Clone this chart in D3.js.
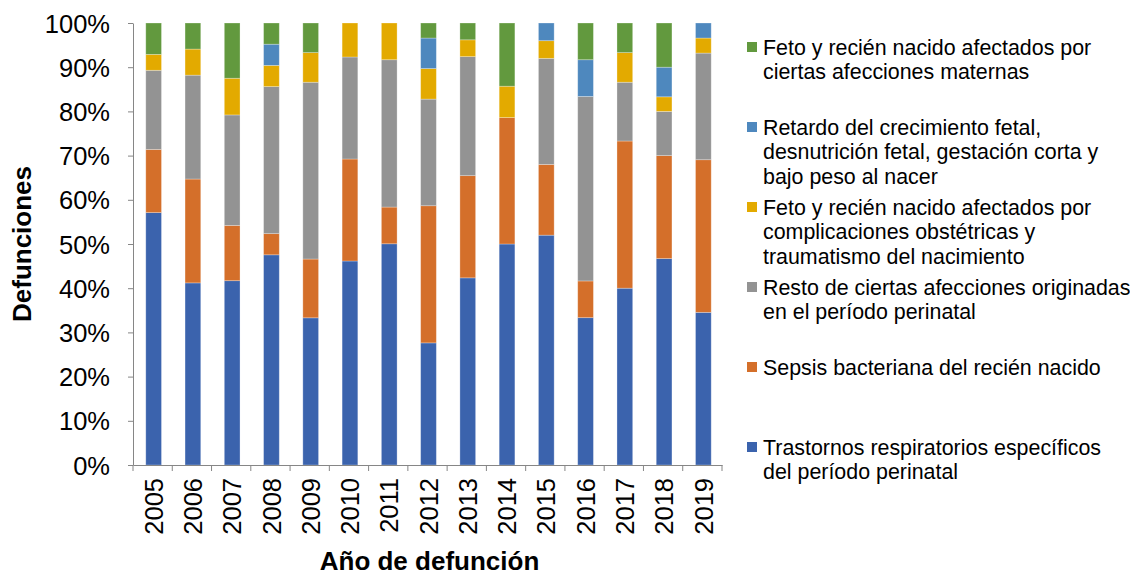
<!DOCTYPE html>
<html>
<head>
<meta charset="utf-8">
<script src="https://cdn.jsdelivr.net/npm/d3@7"></script>
<style>
  body { margin: 0; background: #fff; }
  svg text { font-family: "Liberation Sans", Arial, sans-serif; fill: #000; }
</style>
</head>
<body>
<svg id="chart" width="1130" height="576"></svg>
<script>
// datos (porcentaje de defunciones por causa)
let years = ["2005","2006","2007","2008","2009","2010","2011","2012","2013","2014","2015","2016","2017","2018","2019"];

let trastornos = [57.1, 41.2, 41.7, 47.6, 33.3, 46.2, 50.0, 27.6, 42.3, 50.0, 52.0, 33.3, 40.0, 46.7, 34.5];
let sepsis     = [14.3, 23.5, 12.5,  4.8, 13.3, 23.1,  8.3, 31.0, 23.1, 28.6, 16.0,  8.3, 33.3, 23.3, 34.5];
let resto      = [17.9, 23.5, 25.0, 33.3, 40.0, 23.1, 33.3, 24.1, 26.9,  0.0, 24.0, 41.7, 13.3, 10.0, 24.1];
let complic    = [ 3.6,  5.9,  8.3,  4.8,  6.7,  7.7,  8.3,  6.9,  3.8,  7.1,  4.0,  0.0,  6.7,  3.3,  3.4];
let retardo    = [ 0.0,  0.0,  0.0,  4.8,  0.0,  0.0,  0.0,  6.9,  0.0,  0.0,  4.0,  8.3,  0.0,  6.7,  3.4];
let maternas   = [ 7.1,  5.9, 12.5,  4.8,  6.7,  0.0,  0.0,  3.4,  3.8, 14.3,  0.0,  8.3,  6.7, 10.0,  0.0];

let keys = ["trastornos","sepsis","resto","complic","retardo","maternas"];
let colors = ["#3b63ad","#d46f2a","#939393","#e3aa00","#4e88be","#62993e"];
let legendLabels = [
  ["Feto y recién nacido afectados por", "ciertas afecciones maternas"],
  ["Retardo del crecimiento fetal,", "desnutrición fetal, gestación corta y", "bajo peso al nacer"],
  ["Feto y recién nacido afectados por", "complicaciones obstétricas y", "traumatismo del nacimiento"],
  ["Resto de ciertas afecciones originadas", "en el período perinatal"],
  ["Sepsis bacteriana del recién nacido"],
  ["Trastornos respiratorios específicos", "del período perinatal"]
];
let yTicks = [0, 0.1, 0.2, 0.3, 0.4, 0.5, 0.6, 0.7, 0.8, 0.9, 1];

let series = [trastornos, sepsis, resto, complic, retardo, maternas];
let rows = years.map(function(yr, i) {
  let r = {year: yr};
  keys.forEach(function(k, j) { r[k] = series[j][i]; });
  return r;
});

let svg = d3.select("#chart");
let plotL = 133, plotR = 722, plotT = 23, plotB = 465;

let x = d3.scaleBand().domain(years).range([plotL, plotR]).paddingInner(0.6).paddingOuter(0.3);
let y = d3.scaleLinear().domain([0, 1]).range([plotB, plotT]);
let color = d3.scaleOrdinal().domain(keys).range(colors);

let stacked = d3.stack().keys(keys).offset(d3.stackOffsetExpand)(rows);

// barras
svg.append("g").selectAll("g")
  .data(stacked)
  .enter().append("g")
  .attr("fill", function(d) { return color(d.key); })
  .selectAll("rect")
  .data(function(d) { return d; })
  .enter().append("rect")
  .attr("x", function(d) { return x(d.data.year) + 1; })
  .attr("y", function(d) { return y(d[1]); })
  .attr("width", x.bandwidth())
  .attr("height", function(d) { return y(d[0]) - y(d[1]); })
  .attr("stroke", "rgba(255,255,255,0.35)")
  .attr("stroke-width", 0.8);

// eje y
let yAxis = svg.append("g")
  .attr("transform", "translate(" + plotL + ",0)")
  .call(d3.axisLeft(y).tickValues(yTicks).tickFormat(d3.format(".0%")).tickSize(5).tickPadding(18).tickSizeOuter(0));
yAxis.select(".domain").attr("stroke", "#868686");
yAxis.selectAll(".tick line").attr("stroke", "#868686");
yAxis.selectAll(".tick text").style("font-size", "25.5px").attr("dy", "0.36em");

// eje x
let xAxis = svg.append("g")
  .attr("transform", "translate(0," + plotB + ")")
  .call(d3.axisBottom(x).tickSize(0).tickSizeOuter(0));
xAxis.select(".domain").attr("stroke", "#868686");
xAxis.selectAll(".tick text")
  .style("font-size", "25.5px")
  .attr("text-anchor", "end")
  .attr("transform", "translate(1,13) rotate(-90)")
  .attr("x", 0).attr("y", 0).attr("dy", "0.36em");

// marcas entre categorías
svg.append("g").selectAll("line")
  .data(d3.range(years.length + 1))
  .enter().append("line")
  .attr("x1", function(i) { return x.range()[0] + i * x.step(); })
  .attr("x2", function(i) { return x.range()[0] + i * x.step(); })
  .attr("y1", plotB).attr("y2", plotB + 6)
  .attr("stroke", "#868686");

// títulos de ejes
svg.append("text")
  .attr("transform", "translate(31," + ((plotT + plotB) / 2) + ") rotate(-90)")
  .attr("text-anchor", "middle")
  .style("font-size", "26px").style("font-weight", "bold")
  .text("Defunciones");

svg.append("text")
  .attr("x", (plotL + plotR) / 2 + 2)
  .attr("y", 570)
  .attr("text-anchor", "middle")
  .style("font-size", "26px").style("font-weight", "bold")
  .text("Año de defunción");

// leyenda (de arriba hacia abajo, orden inverso al apilado)
let legendColors = colors.slice().reverse();
let legend = svg.append("g").selectAll("g")
  .data(legendLabels)
  .enter().append("g")
  .attr("transform", function(d, i) { return "translate(747," + (47 + i * 80) + ")"; });

legend.append("rect")
  .attr("x", 0).attr("y", -5)
  .attr("width", 10).attr("height", 10)
  .attr("fill", function(d, i) { return legendColors[i]; });

legend.append("text")
  .style("font-size", "21.4px")
  .selectAll("tspan")
  .data(function(d) { return d; })
  .enter().append("tspan")
  .attr("x", 16)
  .attr("y", function(d, i) { return i * 24.5; })
  .attr("dy", "0.36em")
  .text(function(d) { return d; });
</script>
</body>
</html>
